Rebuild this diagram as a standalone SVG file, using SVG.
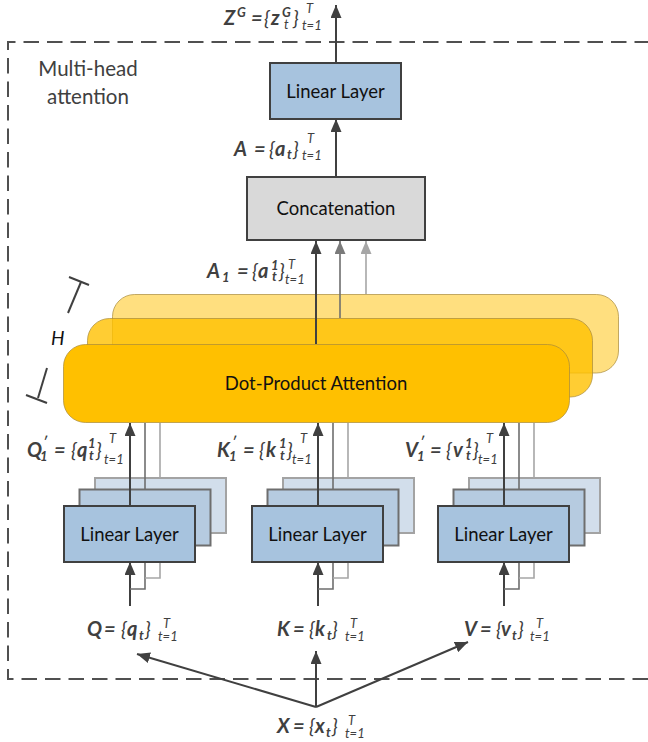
<svg xmlns="http://www.w3.org/2000/svg" width="648" height="742" viewBox="0 0 648 742">
  <style>
    .box { font-family: Lato, "Open Sans", sans-serif; font-size: 18.5px; fill: #111; text-anchor: middle; }
    .note { font-family: Lato, "Open Sans", sans-serif; font-size: 20.5px; fill: #404040; text-anchor: middle; }
    .lb { font-family: Lato, "Open Sans", sans-serif; font-style: italic; fill: #404040; font-size: 20px; }
    .b { font-weight: bold; }
    .sm { font-size: 13px; }
    .lin { fill: #a7c3de; stroke: #404040; stroke-width: 2; }
    .lin2 { fill: #b6cbe0; stroke: #6e6e6e; stroke-width: 2; }
    .lin3 { fill: #d2deeb; stroke: #a3a3a3; stroke-width: 2; }
    .att { fill: #ffc000; stroke: #a88a3a; stroke-opacity: 0.7; stroke-width: 1; }
    .dark { stroke: #404040; stroke-width: 2; fill: none; }
    .mid { stroke: #6e6e6e; stroke-width: 1.6; fill: none; }
    .light { stroke: #a6a6a6; stroke-width: 1.6; fill: none; }
  </style>
  <defs>
    <marker id="ah" viewBox="0 0 13 11" refX="13" refY="5.5" markerWidth="13" markerHeight="11" markerUnits="userSpaceOnUse" orient="auto">
      <path d="M0,0 L13,5.5 L0,11 z" fill="#404040"/>
    </marker>
    <marker id="ahm" viewBox="0 0 13 11" refX="13" refY="5.5" markerWidth="13" markerHeight="11" markerUnits="userSpaceOnUse" orient="auto">
      <path d="M0,0 L13,5.5 L0,11 z" fill="#7a7a7a"/>
    </marker>
    <marker id="ahl" viewBox="0 0 13 11" refX="13" refY="5.5" markerWidth="13" markerHeight="11" markerUnits="userSpaceOnUse" orient="auto">
      <path d="M0,0 L13,5.5 L0,11 z" fill="#a6a6a6"/>
    </marker>
  </defs>

  <rect width="648" height="742" fill="#ffffff"/>

  <!-- dashed frame of the multi-head block -->
  <g id="frame">
    <path d="M650 42 H8 V679 H650" fill="none" stroke="#505050" stroke-width="2" stroke-dasharray="15.5 8"/>
    <text x="88" y="76" class="note">Multi-head</text>
    <text x="88" y="104" class="note">attention</text>
  </g>

  <!-- head count marker -->
  <g id="head-count">
    <line x1="68" y1="313" x2="81" y2="282" class="dark"/>
    <line x1="69" y1="277" x2="89" y2="285" class="dark"/>
    <line x1="47" y1="368" x2="38" y2="398" class="dark"/>
    <line x1="26" y1="395" x2="47" y2="403" class="dark"/>
    <text x="51" y="345" font-family="Lato, Open Sans, sans-serif" font-style="italic" font-size="19" fill="#111">H</text>
  </g>

  <!-- nodes -->
  <g id="linear-out">
    <rect x="270" y="63" width="131" height="56" class="lin"/>
    <text x="335.5" y="97.5" class="box">Linear Layer</text>
  </g>

  <g id="concat">
    <rect x="247" y="177" width="178" height="63" fill="#d9d9d9" stroke="#404040" stroke-width="2"/>
    <text x="336" y="215" class="box">Concatenation</text>
  </g>

  <g id="attention">
    <rect x="112.5" y="294.5" width="506" height="78.5" rx="22" class="att" fill-opacity="0.5"/>
    <rect x="87.5" y="318.5" width="505" height="78.5" rx="22" class="att" fill-opacity="0.8"/>
    <rect x="63.5" y="344.5" width="506" height="78" rx="22" class="att"/>
    <text x="316" y="390" class="box">Dot-Product Attention</text>
  </g>

  <g id="linear-q">
    <rect x="95" y="478" width="131" height="55" class="lin3"/>
    <rect x="79.5" y="489.5" width="131" height="56" class="lin2"/>
    <rect x="64" y="506" width="131" height="56" class="lin"/>
    <text x="129.5" y="540.5" class="box">Linear Layer</text>
  </g>

  <g id="linear-k">
    <rect x="283" y="478" width="131" height="55" class="lin3"/>
    <rect x="267.5" y="489.5" width="131" height="56" class="lin2"/>
    <rect x="252" y="506" width="131" height="56" class="lin"/>
    <text x="317.5" y="540.5" class="box">Linear Layer</text>
  </g>

  <g id="linear-v">
    <rect x="469" y="478" width="131" height="55" class="lin3"/>
    <rect x="453.5" y="489.5" width="131" height="56" class="lin2"/>
    <rect x="438" y="506" width="131" height="56" class="lin"/>
    <text x="503.5" y="540.5" class="box">Linear Layer</text>
  </g>

  <!-- connectors -->
  <g id="connectors">
    <line x1="336" y1="63" x2="336" y2="5" class="dark" marker-end="url(#ah)"/>
    <line x1="336" y1="177" x2="336" y2="119" class="dark" marker-end="url(#ah)"/>
    <line x1="316" y1="344" x2="316" y2="241" class="dark" marker-end="url(#ah)"/>
    <line x1="340" y1="318" x2="340" y2="241" class="mid" marker-end="url(#ahm)"/>
    <line x1="366" y1="294" x2="366" y2="241" class="light" marker-end="url(#ahl)"/>

    <!-- Q branch -->
    <line x1="130" y1="506" x2="130" y2="423" class="dark" marker-end="url(#ah)"/>
    <line x1="145" y1="489" x2="145" y2="423" class="mid"/>
    <line x1="160" y1="478" x2="160" y2="423" class="light"/>
    <line x1="130" y1="606" x2="130" y2="562" class="dark" marker-end="url(#ah)"/>
    <polyline points="130,589 145,589 145,563" class="mid"/>
    <polyline points="145,578 160,578 160,563" class="light"/>

    <!-- K branch -->
    <line x1="318" y1="506" x2="318" y2="423" class="dark" marker-end="url(#ah)"/>
    <line x1="333" y1="489" x2="333" y2="423" class="mid"/>
    <line x1="348" y1="478" x2="348" y2="423" class="light"/>
    <line x1="318" y1="606" x2="318" y2="562" class="dark" marker-end="url(#ah)"/>
    <polyline points="318,589 333,589 333,563" class="mid"/>
    <polyline points="333,578 348,578 348,563" class="light"/>

    <!-- V branch -->
    <line x1="504" y1="506" x2="504" y2="423" class="dark" marker-end="url(#ah)"/>
    <line x1="519" y1="489" x2="519" y2="423" class="mid"/>
    <line x1="534" y1="478" x2="534" y2="423" class="light"/>
    <line x1="504" y1="606" x2="504" y2="562" class="dark" marker-end="url(#ah)"/>
    <polyline points="504,589 519,589 519,563" class="mid"/>
    <polyline points="519,578 534,578 534,563" class="light"/>

    <!-- input fan-out -->
    <line x1="316" y1="707" x2="137" y2="654" class="dark" marker-end="url(#ah)"/>
    <line x1="316" y1="707" x2="316" y2="651" class="dark" marker-end="url(#ah)"/>
    <line x1="316" y1="707" x2="468" y2="642" class="dark" marker-end="url(#ah)"/>
  </g>

  <!-- sequence labels -->
  <g id="labels">
    <text class="lb"><tspan class="b" x="224" y="25">Z</tspan><tspan class="b sm" x="237" y="17">G</tspan><tspan class="b" x="251" y="25">=</tspan><tspan x="264" y="25">{</tspan><tspan class="b" x="271" y="25">z</tspan><tspan class="b sm" x="282" y="17">G</tspan><tspan class="sm" x="284" y="29">t</tspan><tspan x="293" y="25">}</tspan><tspan class="sm" x="306" y="13">T</tspan><tspan class="sm" x="302" y="30">t=1</tspan></text>

    <text class="lb"><tspan class="b" x="234" y="156">A</tspan><tspan class="b" x="254" y="156">=</tspan><tspan x="269" y="156">{</tspan><tspan class="b" x="275" y="156">a</tspan><tspan class="b sm" x="287" y="159">t</tspan><tspan x="293" y="156">}</tspan><tspan class="sm" x="307" y="143">T</tspan><tspan class="sm" x="302" y="160">t=1</tspan></text>

    <text class="lb"><tspan class="b" x="207" y="278">A</tspan><tspan class="b sm" x="222" y="282">1</tspan><tspan class="b" x="237" y="278">=</tspan><tspan x="252" y="278">{</tspan><tspan class="b" x="258" y="278">a</tspan><tspan class="b sm" x="271" y="270">1</tspan><tspan class="b sm" x="272" y="281">t</tspan><tspan x="279" y="278">}</tspan><tspan class="sm" x="288" y="269">T</tspan><tspan class="sm" x="285" y="284">t=1</tspan></text>

    <text class="lb"><tspan class="b" x="27" y="457">Q</tspan><tspan class="b sm" x="43" y="446">′</tspan><tspan class="b sm" x="40" y="461">1</tspan><tspan class="b" x="54" y="457">=</tspan><tspan x="71" y="457">{</tspan><tspan class="b" x="77" y="457">q</tspan><tspan class="b sm" x="88" y="448">1</tspan><tspan class="b sm" x="89" y="460">t</tspan><tspan x="96" y="457">}</tspan><tspan class="sm" x="109" y="443">T</tspan><tspan class="sm" x="104" y="464">t=1</tspan></text>

    <text class="lb"><tspan class="b" x="217" y="457">K</tspan><tspan class="b sm" x="232" y="446">′</tspan><tspan class="b sm" x="229" y="461">1</tspan><tspan class="b" x="243" y="457">=</tspan><tspan x="259" y="457">{</tspan><tspan class="b" x="266" y="457">k</tspan><tspan class="b sm" x="279" y="448">1</tspan><tspan class="b sm" x="280" y="460">t</tspan><tspan x="287" y="457">}</tspan><tspan class="sm" x="300" y="443">T</tspan><tspan class="sm" x="292" y="464">t=1</tspan></text>

    <text class="lb"><tspan class="b" x="405" y="457">V</tspan><tspan class="b sm" x="420" y="446">′</tspan><tspan class="b sm" x="417" y="461">1</tspan><tspan class="b" x="430" y="457">=</tspan><tspan x="446" y="457">{</tspan><tspan class="b" x="453" y="457">v</tspan><tspan class="b sm" x="465" y="448">1</tspan><tspan class="b sm" x="466" y="460">t</tspan><tspan x="473" y="457">}</tspan><tspan class="sm" x="486" y="443">T</tspan><tspan class="sm" x="478" y="464">t=1</tspan></text>

    <text class="lb"><tspan class="b" x="87" y="636">Q</tspan><tspan class="b" x="104" y="636">=</tspan><tspan x="121" y="636">{</tspan><tspan class="b" x="127" y="636">q</tspan><tspan class="b sm" x="139" y="640">t</tspan><tspan x="145" y="636">}</tspan><tspan class="sm" x="163" y="628">T</tspan><tspan class="sm" x="158" y="641">t=1</tspan></text>

    <text class="lb"><tspan class="b" x="277" y="636">K</tspan><tspan class="b" x="293" y="636">=</tspan><tspan x="309" y="636">{</tspan><tspan class="b" x="315" y="636">k</tspan><tspan class="b sm" x="327" y="640">t</tspan><tspan x="332" y="636">}</tspan><tspan class="sm" x="350" y="628">T</tspan><tspan class="sm" x="345" y="641">t=1</tspan></text>

    <text class="lb"><tspan class="b" x="464" y="636">V</tspan><tspan class="b" x="480" y="636">=</tspan><tspan x="496" y="636">{</tspan><tspan class="b" x="501" y="636">v</tspan><tspan class="b sm" x="512" y="640">t</tspan><tspan x="518" y="636">}</tspan><tspan class="sm" x="536" y="628">T</tspan><tspan class="sm" x="530" y="641">t=1</tspan></text>

    <text class="lb"><tspan class="b" x="277" y="733">X</tspan><tspan class="b" x="293" y="733">=</tspan><tspan x="309" y="733">{</tspan><tspan class="b" x="315" y="733">x</tspan><tspan class="b sm" x="326" y="737">t</tspan><tspan x="332" y="733">}</tspan><tspan class="sm" x="348" y="725">T</tspan><tspan class="sm" x="345" y="738">t=1</tspan></text>
  </g>
</svg>
